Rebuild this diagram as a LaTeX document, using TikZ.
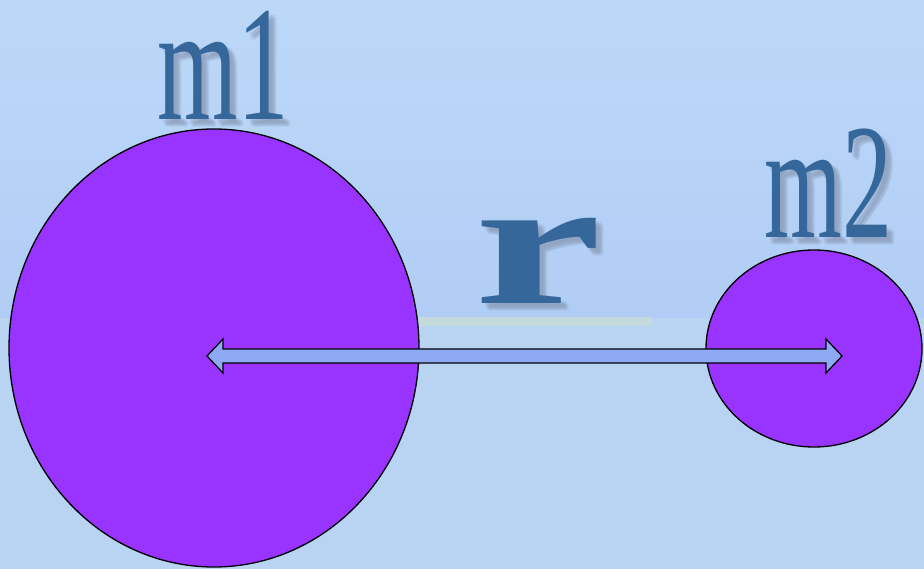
\documentclass[tikz,border=0pt]{standalone}
\usepackage{fontspec}
\setmainfont{Liberation Serif}
\usetikzlibrary{shapes.geometric}
\definecolor{bgtop}{HTML}{BCD8F8}
\definecolor{bgmid}{HTML}{B1CDF5}
\definecolor{bglow}{HTML}{B9D4F3}
\definecolor{ballfill}{HTML}{9933FF}
\definecolor{arrowfill}{HTML}{8FAAF5}
\definecolor{labelblue}{HTML}{35679B}
\definecolor{shadowgray}{HTML}{7F8EA8}
\definecolor{glowline}{HTML}{C3D9DC}
\tikzset{
  ball/.style={ellipse, draw=black, line width=1.3pt, fill=ballfill, inner sep=0pt},
  masslabel/.style={anchor=base west, inner sep=0pt, text=labelblue, font=\fontsize{164}{164}\selectfont},
  distlabel/.style={anchor=base west, inner sep=0pt, text=labelblue, font=\fontsize{180}{180}\selectfont\bfseries},
  shadowtext/.style={text=shadowgray, opacity=0.13},
  arrowshape/.style={draw=black, line width=1.2pt, fill=arrowfill, line join=miter}
}
\newcommand{\shadowed}[4]{% style, x, y, text
  \foreach \dx/\dy in {3/3,5/5,7/7,4/6,6/4,6/8,8/6}{
    \node[#1, shadowtext] at (#2+\dx,#3+\dy) {#4};
  }
  \node[#1] at (#2,#3) {#4};
}
\begin{document}
\begin{tikzpicture}[x=1pt,y=-1pt]
  \useasboundingbox (0,0) rectangle (924,569);
  % background
  \shade[top color=bgtop, bottom color=bgmid] (0,0) rectangle (924,318);
  \fill[bglow] (0,318) rectangle (924,569);
  \fill[glowline] (418,317) rectangle (652,326);
  % balls
  \node[ball, minimum width=410pt, minimum height=438pt] (ball1) at (214,348) {};
  \node[ball, minimum width=216pt, minimum height=197pt] (ball2) at (814,348.5) {};
  % double arrow between the balls
  \coordinate (tipL) at ([xshift=-7pt,yshift=-8pt]ball1.center);
  \coordinate (tipR) at ([xshift=28pt,yshift=-7.5pt]ball2.center);
  \draw[arrowshape] (tipL) -- ++(16,-17) -- ++(0,10)
     -- ([xshift=-16pt,yshift=7pt]tipR) -- ++(0,-10)
     -- (tipR) -- ++(-16,17) -- ++(0,-10)
     -- ([xshift=16pt,yshift=-7pt]tipL) -- ++(0,10) -- cycle;
  % labels
  \shadowed{masslabel}{157}{120}{\scalebox{0.63}[1]{m1}}
  \shadowed{masslabel}{764}{238}{\scalebox{0.61}[1]{m2}}
  \shadowed{distlabel}{474}{304}{\scalebox{1.6}[1]{r}}
\end{tikzpicture}
\end{document}
